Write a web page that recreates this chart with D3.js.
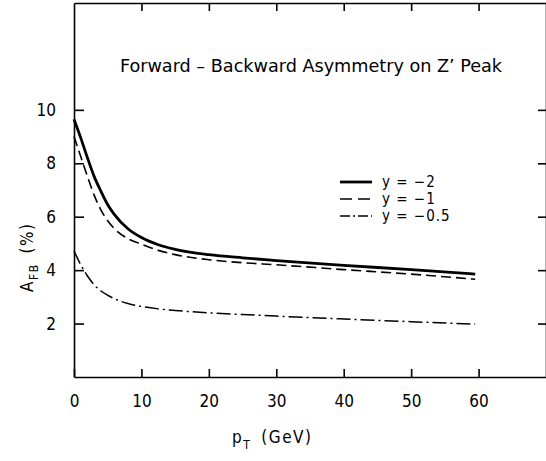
<!DOCTYPE html>
<html>
<head>
<meta charset="utf-8">
<script src="https://cdn.jsdelivr.net/npm/d3@7"></script>
<style>
  body { margin: 0; background: #fff; }
  svg { display: block; }
  text { font-family: "DejaVu Sans Condensed", "DejaVu Sans", sans-serif; fill: #000; }
  .axis path, .axis line { stroke: #000; stroke-width: 1.6; }
</style>
</head>
<body>
<div id="chart"></div>
<script>
// values
const pT = [0, 1, 2, 3, 4, 5, 6, 8, 10, 12.5, 15, 20, 25, 30, 40, 50, 59.5];
const afbYm2 = [9.65, 8.95, 8.2, 7.5, 6.95, 6.45, 6.08, 5.55, 5.22, 4.95, 4.78, 4.58, 4.46, 4.36, 4.18, 4.02, 3.85];
const afbYm1 = [9.0, 8.25, 7.5, 6.8, 6.25, 5.85, 5.55, 5.18, 4.97, 4.74, 4.58, 4.39, 4.28, 4.2, 4.02, 3.85, 3.66];
const afbYm05 = [4.72, 4.2, 3.78, 3.45, 3.22, 3.06, 2.93, 2.75, 2.64, 2.55, 2.49, 2.4, 2.34, 2.28, 2.17, 2.07, 1.98];

const seriesLabels = ["y  =  \u22122", "y  =  \u22121", "y  =  \u22120.5"];
const xTicks = [0, 10, 20, 30, 40, 50, 60];
const yTicks = [2, 4, 6, 8, 10];

const series = [
  {label: seriesLabels[0], values: afbYm2, width: 2.8, dash: null, key: null},
  {label: seriesLabels[1], values: afbYm1, width: 1.6, dash: "10,5", key: "12,6"},
  {label: seriesLabels[2], values: afbYm05, width: 1.5, dash: "14,4,2,4", key: "10,3,2,3"}
];

const W = 546, H = 461;
const svg = d3.select("#chart").append("svg")
  .attr("width", W)
  .attr("height", H);

const x = d3.scaleLinear().domain([0, 70]).range([74, 546]);
const y = d3.scaleLinear().domain([0, 14]).range([377, 3]);

// axes, ticks pointing inward
svg.append("g")
  .attr("class", "axis")
  .attr("transform", `translate(0,${y(0)})`)
  .call(d3.axisBottom(x).tickValues(xTicks).tickSize(-8).tickSizeOuter(0).tickPadding(18))
  .call(g => g.selectAll("text").style("font-size", "17px"));

svg.append("g")
  .attr("class", "axis")
  .attr("transform", `translate(0,${y(14)})`)
  .call(d3.axisTop(x).tickValues(xTicks.slice(1)).tickSize(-8).tickSizeOuter(0).tickFormat(""));

svg.append("g")
  .attr("class", "axis")
  .attr("transform", `translate(${x(0)},0)`)
  .call(d3.axisLeft(y).tickValues(yTicks).tickSize(-10).tickSizeOuter(0).tickPadding(18))
  .call(g => g.selectAll("text").style("font-size", "17px"));

svg.append("g")
  .attr("class", "axis")
  .attr("transform", `translate(${x(70)},0)`)
  .call(d3.axisRight(y).tickValues(yTicks).tickSize(-8).tickSizeOuter(0).tickFormat(""));

// curves
const line = d3.line()
  .x((d, i) => x(pT[i]))
  .y(d => y(d))
  .curve(d3.curveMonotoneX);

svg.selectAll(".curve")
  .data(series)
  .enter().append("path")
  .attr("class", "curve")
  .attr("d", d => line(d.values))
  .attr("fill", "none")
  .attr("stroke", "#000")
  .attr("stroke-width", d => d.width)
  .attr("stroke-dasharray", d => d.dash);

// title
svg.append("text")
  .attr("x", 120)
  .attr("y", 72)
  .attr("textLength", 382)
  .attr("lengthAdjust", "spacingAndGlyphs")
  .style("font-size", "17px")
  .text("Forward \u2013 Backward Asymmetry on Z\u2019 Peak");

// legend
const legend = svg.append("g").attr("transform", "translate(340,182)");
series.forEach((s, i) => {
  legend.append("line")
    .attr("x1", 0).attr("x2", 32)
    .attr("y1", i * 17).attr("y2", i * 17)
    .attr("stroke", "#000")
    .attr("stroke-width", s.width)
    .attr("stroke-dasharray", s.key);
  legend.append("text")
    .attr("x", 42)
    .attr("y", i * 17 + 5)
    .style("font-size", "15px")
    .style("letter-spacing", "1px")
    .text(s.label);
});

// axis titles
const xt = svg.append("text")
  .attr("x", 232)
  .attr("y", 443)
  .style("font-size", "17px")
  .style("letter-spacing", "1.5px");
xt.append("tspan").text("p");
xt.append("tspan").attr("dy", 6).style("font-size", "12px").text("T");
xt.append("tspan").attr("dy", -6).attr("dx", 10).text("(GeV)");

const yt = svg.append("text")
  .attr("transform", "translate(33,292) rotate(-90)")
  .style("font-size", "17px")
  .style("letter-spacing", "1.5px");
yt.append("tspan").text("A");
yt.append("tspan").attr("dy", 5).style("font-size", "12px").text("FB");
yt.append("tspan").attr("dy", -5).attr("dx", 10).text("(%)");
</script>
</body>
</html>
